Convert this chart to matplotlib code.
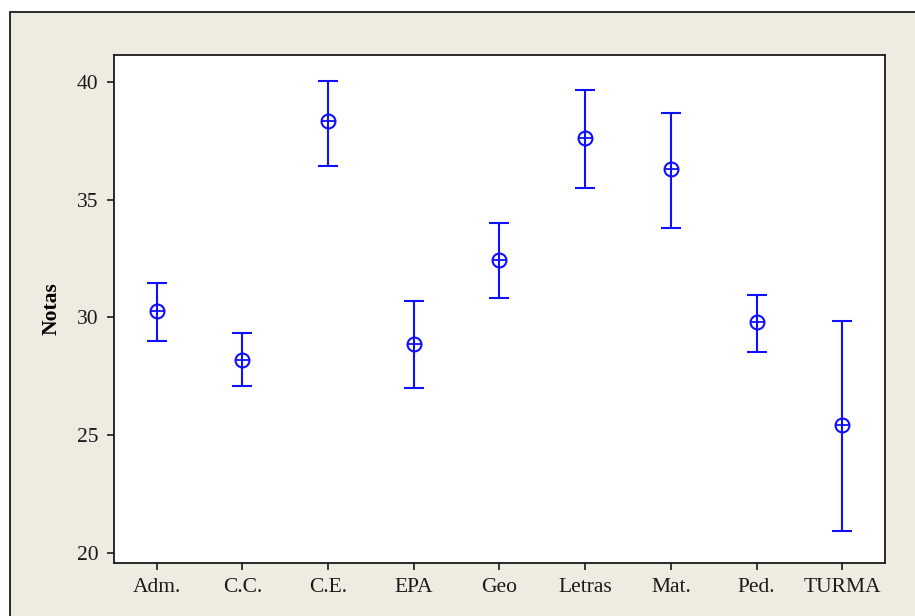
import matplotlib.pyplot as plt
from matplotlib.patches import Rectangle
import numpy as np

plt.rcParams['font.family'] = ['Liberation Serif', 'DejaVu Serif']

# intervalos de confiança das notas por curso
cursos = ['Adm.', 'C.C.', 'C.E.', 'EPA', 'Geo', 'Letras', 'Mat.', 'Ped.', 'TURMA']
media = [30.27, 28.21, 38.33, 28.89, 32.43, 37.63, 36.30, 29.80, 25.42]
lim_inf = [29.02, 27.11, 36.44, 27.02, 30.81, 35.50, 33.80, 28.52, 20.92]
lim_sup = [31.45, 29.32, 40.05, 30.68, 34.00, 39.65, 38.69, 30.97, 29.86]

media = np.array(media)
erro = [media - np.array(lim_inf), np.array(lim_sup) - media]
x = np.arange(len(cursos))

fig = plt.figure(figsize=(9.15, 6.16), dpi=100)
fig.patch.set_facecolor('white')
fundo = Rectangle((10 / 915, -0.1), 1.2, 1 - 12 / 616 + 0.1,
                  transform=fig.transFigure, facecolor='#eeebe1',
                  edgecolor='#1a1a1a', linewidth=1.3, zorder=-10)
fig.patches.append(fundo)

ax = fig.add_axes([114 / 915, 53 / 616, 771 / 915, 508 / 616])
ax.set_facecolor('white')

ax.errorbar(x, media, yerr=erro, fmt='none', ecolor='#1010ff',
            elinewidth=1.5, capsize=7, capthick=1.5)
ax.plot(x, media, 'o', ms=10, mfc='none', mec='#1010ff', mew=1.5)
ax.plot(x, media, '+', ms=10, mec='#1010ff', mew=1.3)

ax.set_xlim(-0.5, 8.5)
ax.set_ylim(19.57, 41.15)
ax.set_yticks([20, 25, 30, 35, 40])
ax.set_xticks(x)
ax.set_xticklabels(cursos)
ax.tick_params(direction='out', length=5, width=1.2, labelsize=15.5, pad=6,
               colors='#1a1a1a')
for s in ax.spines.values():
    s.set_linewidth(1.3)
    s.set_color('#1a1a1a')
ax.tick_params(top=False, right=False)
ax.set_ylabel('Notas', fontsize=15.5, fontweight='bold', labelpad=11)

fig.savefig('out.png', dpi=100)
